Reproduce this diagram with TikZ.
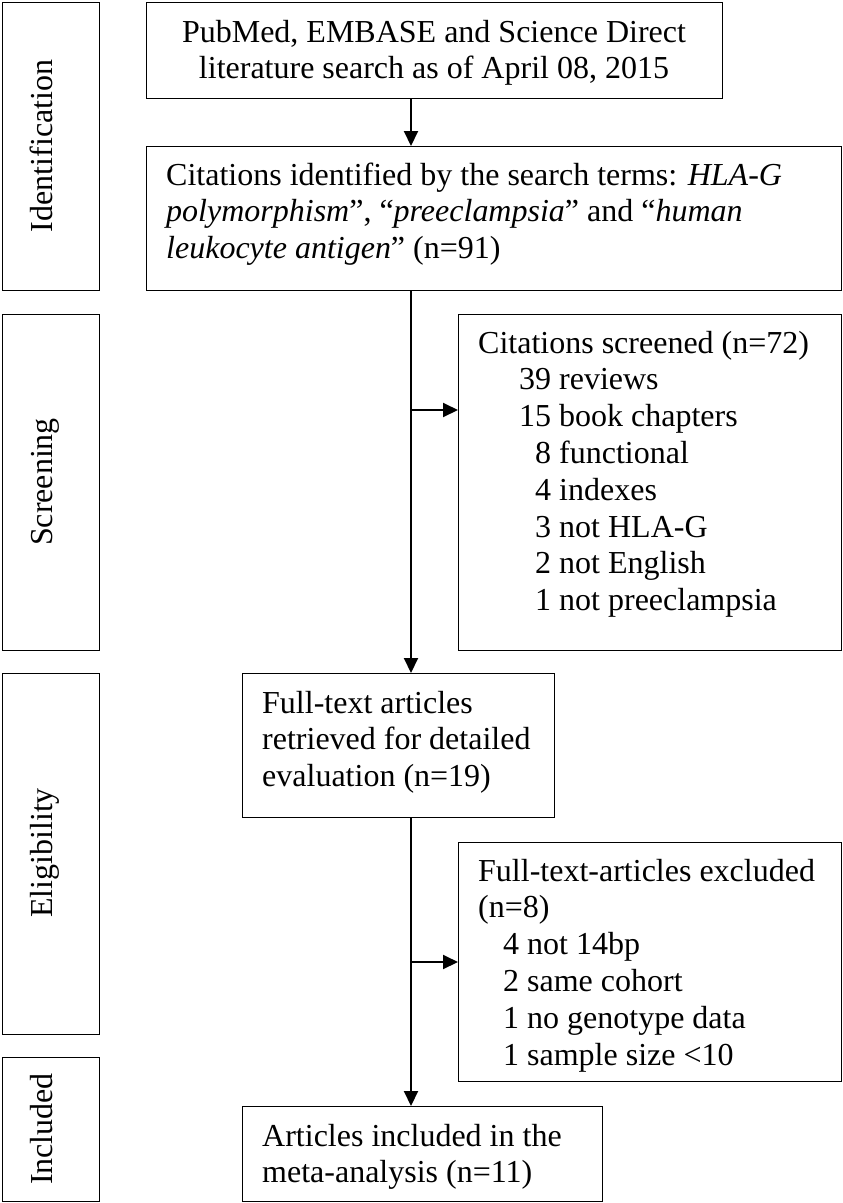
\documentclass[tikz,border=0pt]{standalone}
\usepackage{fontspec}
\setmainfont{Liberation Serif}
\usetikzlibrary{arrows.meta}
\begin{document}
\begin{tikzpicture}[x=1pt,y=-1pt,
  box/.style={draw, line width=1.3pt, inner sep=0pt, anchor=north west},
  arr/.style={line width=2pt, -{Triangle[length=15pt,width=14pt]}},
  lab/.style={rotate=90, anchor=base, inner sep=0pt},
  txt/.style={anchor=base west, inner sep=0pt},
  ctxt/.style={anchor=base, inner sep=0pt},
  every node/.style={font=\fontsize{32}{36.8}\selectfont}]
\useasboundingbox (0,0) rectangle (843,1203);
% side boxes
\node[box, minimum width=97pt, minimum height=288pt] (idb) at (2,2) {};
\node[box, minimum width=97pt, minimum height=336pt] (scb) at (2,314) {};
\node[box, minimum width=97pt, minimum height=361pt] (elb) at (2,673) {};
\node[box, minimum width=97pt, minimum height=144pt] (inb) at (2,1057) {};
\node[lab] (idl) at (52,146) {Identification};
\node[lab] (scl) at (52,482) {Screening};
\node[lab] (ell) at (52,853) {Eligibility};
\node[lab] (inl) at (52,1129) {Included};
% main boxes
\node[box, minimum width=576pt, minimum height=96pt] (top) at (146,2) {};
\node[box, minimum width=695pt, minimum height=144pt] (cit) at (146,146) {};
\node[box, minimum width=383pt, minimum height=336pt] (scr) at (458,314) {};
\node[box, minimum width=312pt, minimum height=144pt] (ful) at (242,673) {};
\node[box, minimum width=383pt, minimum height=239pt] (exc) at (458,842) {};
\node[box, minimum width=360pt, minimum height=95pt] (inc) at (242,1106) {};
% texts
\node[ctxt] (topt) at (434,42) {\begin{tabular}[t]{@{}c@{}}PubMed, EMBASE and Science Direct\\literature search as of April 08, 2015\end{tabular}};
\node[txt] (citt) at (166,185) {\begin{tabular}[t]{@{}l@{}}Citations identified by the search terms: \textit{HLA-G}\\\textit{polymorphism}”, “\textit{preeclampsia}” and “\textit{human}\\\textit{leukocyte antigen}” (n=91)\end{tabular}};
\node[txt] (scrt) at (478,353) {\begin{tabular}[t]{@{}l@{}}Citations screened (n=72)\\
\hspace*{41pt}39 reviews\\
\hspace*{41pt}15 book chapters\\
\hspace*{41pt}\phantom{0}8 functional\\
\hspace*{41pt}\phantom{0}4 indexes\\
\hspace*{41pt}\phantom{0}3 not HLA-G\\
\hspace*{41pt}\phantom{0}2 not English\\
\hspace*{41pt}\phantom{0}1 not preeclampsia\end{tabular}};
\node[txt] (fult) at (262,713) {\begin{tabular}[t]{@{}l@{}}Full-text articles\\retrieved for detailed\\evaluation (n=19)\end{tabular}};
\node[txt] (exct) at (478,881) {\begin{tabular}[t]{@{}l@{}}Full-text-articles excluded\\(n=8)\\
\hspace*{25pt}4 not 14bp\\
\hspace*{25pt}2 same cohort\\
\hspace*{25pt}1 no genotype data\\
\hspace*{25pt}1 sample size <10\end{tabular}};
\node[txt] (inct) at (262,1146) {\begin{tabular}[t]{@{}l@{}}Articles included in the\\meta-analysis (n=11)\end{tabular}};
% connectors
\coordinate (ax) at (411,0);
\coordinate (b1) at (411,410);
\coordinate (b2) at (411,962);
\draw[arr] (top.south -| ax) -- (cit.north -| ax);
\draw[arr] (cit.south -| ax) -- (ful.north -| ax);
\draw[arr] (ful.south -| ax) -- (inc.north -| ax);
\draw[arr] (b1) -- (b1 -| scr.west);
\draw[arr] (b2) -- (b2 -| exc.west);
\end{tikzpicture}
\end{document}
